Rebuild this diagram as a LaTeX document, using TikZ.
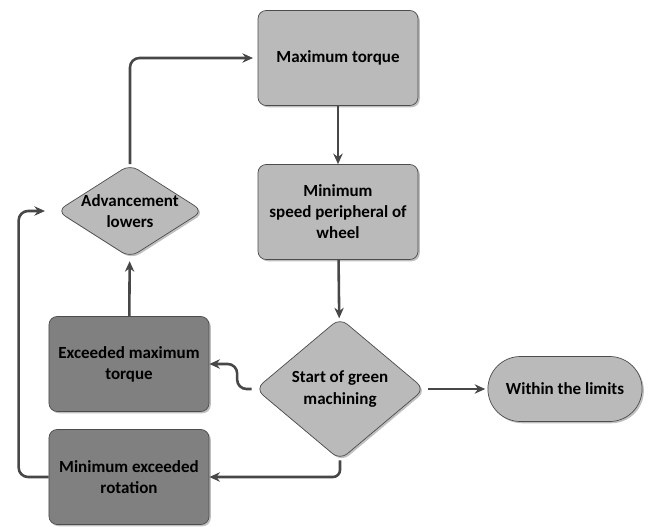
\documentclass[tikz,border=0pt]{standalone}
\usepackage{fontspec}
\setmainfont{Carlito}
\usetikzlibrary{positioning,arrows.meta,shapes.geometric,shapes.misc,shadows,calc}

\begin{document}
\begin{tikzpicture}[
  x=0.03cm,y=-0.03cm,
  font=\bfseries\fontsize{14.5}{18}\selectfont,>={Stealth[length=9pt,width=8pt]},
  shad/.style={drop shadow={shadow xshift=1.5pt,shadow yshift=-1.5pt,opacity=0.25,fill=black}},
  lbox/.style={draw=black!70,line width=0.6pt,rounded corners=7pt,fill=black!27,shad,
               align=center,minimum width=4.8cm,minimum height=2.85cm,inner sep=2pt},
  dbox/.style={lbox,fill=black!50},
  dec/.style={diamond,draw=black!70,line width=0.6pt,rounded corners=8pt,fill=black!27,shad,
              align=center,inner sep=1pt},
  term/.style={rounded rectangle,draw=black!70,line width=0.6pt,fill=black!27,shad,
               minimum width=4.86cm,minimum height=1.95cm},
  arr/.style={->,line width=2.2pt,draw=black!72},
]
  \useasboundingbox (0,0) rectangle (648,526);

  \node[lbox] (maxt) at (338,58) {Maximum torque};
  \node[lbox] (minsp) at (338,212) {Minimum\\speed peripheral of\\wheel};
  \node[dec,minimum width=5.07cm,minimum height=4.26cm] (green) at (340,389)
    {Start of green\\machining};
  \node[term] (lim) at (565,389) {Within the limits};
  \node[dec,aspect=1.57,inner sep=-5pt,minimum width=4.38cm,minimum height=2.79cm] (adv)
    at (130,211) {Advancement\\lowers};
  \node[dbox] (exmt) at (129,364) {Exceeded maximum\\torque};
  \node[dbox] (minrot) at (129,477) {Minimum exceeded\\rotation};

  \draw[arr] (maxt) -- (minsp);
  \draw[arr] (minsp) -- (green);
  \draw[arr,shorten <=3pt,shorten >=2pt] (green) -- (lim);
  \draw[arr,rounded corners=8pt,shorten <=3pt] (green.west) -- ++(-18,0) |- (exmt.east);
  \draw[arr,rounded corners=6pt] (green.south) |- (minrot.east);
  \draw[arr,rounded corners=8pt,shorten >=10pt] (minrot.west) -- ++(-30,0) |- (adv.west);
  \draw[arr,shorten >=3pt] (exmt) -- (adv);
  \draw[arr,rounded corners=8pt,shorten >=4pt] (adv.north) |- (maxt.west);
\end{tikzpicture}
\end{document}
